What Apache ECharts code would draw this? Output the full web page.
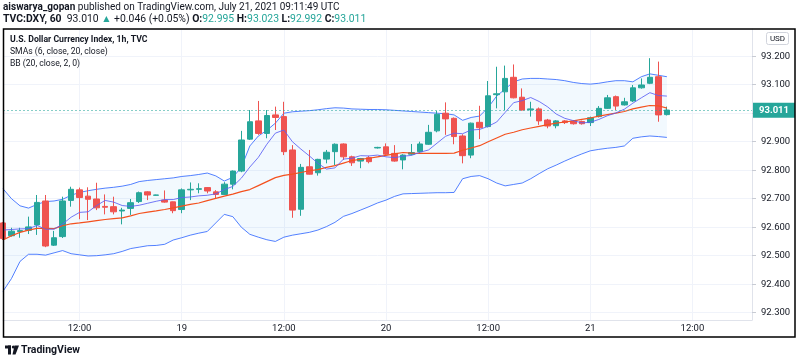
<!DOCTYPE html>
<html><head><meta charset="utf-8">
<script src="https://cdn.jsdelivr.net/npm/echarts@6/dist/echarts.min.js"></script>
<style>html,body{margin:0;padding:0;background:#fff;}#c{width:800px;height:362px;}</style>
</head><body><div id="c"></div>
<script>
// ---- data (hourly candles, TVC:DXY 1h) ----
const opens = [92.615,92.570,92.585,92.589,92.608,92.692,92.537,92.567,92.694,92.731,92.709,92.699,92.673,92.672,92.657,92.666,92.690,92.724,92.712,92.695,92.689,92.662,92.731,92.733,92.739,92.724,92.715,92.751,92.797,92.909,92.973,92.929,92.994,92.988,92.871,92.663,92.812,92.791,92.839,92.865,92.892,92.847,92.832,92.844,92.878,92.882,92.859,92.836,92.856,92.865,92.891,92.938,93.000,92.982,92.920,92.853,92.968,92.953,93.065,93.075,93.126,93.056,93.012,93.015,92.976,92.956,92.973,92.972,92.971,92.967,92.988,93.017,93.058,93.029,93.043,93.089,93.105,93.128,92.995];
const closes = [92.560,92.586,92.588,92.601,92.687,92.534,92.563,92.692,92.733,92.704,92.698,92.668,92.670,92.654,92.660,92.686,92.721,92.713,92.713,92.688,92.658,92.731,92.733,92.735,92.727,92.715,92.751,92.797,92.906,92.970,92.929,92.992,92.985,92.865,92.660,92.810,92.786,92.838,92.863,92.891,92.847,92.826,92.841,92.830,92.880,92.856,92.832,92.853,92.862,92.892,92.933,92.996,92.980,92.918,92.851,92.965,92.949,93.061,93.068,93.122,93.054,93.011,93.015,92.973,92.955,92.973,92.967,92.963,92.963,92.984,93.017,93.054,93.025,93.040,93.089,93.099,93.126,92.994,93.011];
const highs = [92.618,92.598,92.598,92.637,92.713,92.713,92.587,92.707,92.742,92.739,92.740,92.756,92.715,92.707,92.668,92.699,92.725,92.726,92.714,92.729,92.690,92.736,92.757,92.754,92.741,92.730,92.758,92.799,92.938,93.011,93.043,93.011,93.023,93.040,92.888,92.822,92.871,92.840,92.871,92.894,92.894,92.851,92.843,92.850,92.882,92.894,92.888,92.856,92.892,92.900,92.959,93.008,93.038,92.985,92.926,92.967,93.026,93.113,93.163,93.167,93.171,93.087,93.040,93.020,92.980,92.976,92.976,92.976,92.974,92.988,93.025,93.064,93.062,93.054,93.099,93.122,93.193,93.181,93.023];
const lows = [92.555,92.567,92.563,92.576,92.573,92.530,92.534,92.562,92.672,92.628,92.625,92.660,92.645,92.645,92.610,92.643,92.685,92.695,92.711,92.686,92.649,92.649,92.695,92.719,92.719,92.701,92.713,92.733,92.793,92.906,92.924,92.912,92.941,92.853,92.633,92.640,92.785,92.781,92.824,92.818,92.836,92.815,92.807,92.824,92.876,92.851,92.830,92.803,92.852,92.862,92.889,92.933,92.924,92.891,92.824,92.842,92.909,92.950,93.017,93.011,93.052,93.009,92.988,92.959,92.947,92.947,92.962,92.960,92.960,92.955,92.985,93.015,93.011,93.027,93.039,93.086,93.102,92.970,92.992];
const sma6 = [92.590,92.592,92.594,92.595,92.606,92.593,92.593,92.611,92.635,92.652,92.654,92.676,92.694,92.688,92.676,92.673,92.677,92.684,92.691,92.697,92.697,92.704,92.706,92.710,92.712,92.717,92.732,92.743,92.772,92.811,92.845,92.891,92.930,92.941,92.900,92.874,92.850,92.824,92.804,92.808,92.839,92.842,92.851,92.850,92.853,92.847,92.844,92.849,92.852,92.863,92.871,92.895,92.919,92.930,92.928,92.941,92.943,92.954,92.969,93.003,93.037,93.044,93.055,93.041,93.022,92.997,92.982,92.974,92.966,92.968,92.978,92.991,93.001,93.014,93.035,93.054,93.072,93.062,93.060];
const basis = [92.555,92.570,92.582,92.590,92.596,92.596,92.595,92.605,92.612,92.615,92.619,92.623,92.627,92.630,92.633,92.640,92.648,92.653,92.657,92.662,92.668,92.674,92.680,92.685,92.693,92.701,92.709,92.716,92.725,92.732,92.746,92.760,92.774,92.782,92.786,92.792,92.798,92.802,92.810,92.816,92.825,92.834,92.838,92.842,92.847,92.852,92.857,92.862,92.860,92.859,92.859,92.859,92.859,92.860,92.870,92.878,92.886,92.900,92.913,92.926,92.933,92.942,92.948,92.954,92.960,92.965,92.969,92.973,92.978,92.983,92.990,92.995,93.000,93.006,93.015,93.021,93.027,93.026,93.018];
const upper = [92.735,92.700,92.675,92.667,92.680,92.690,92.692,92.698,92.712,92.722,92.728,92.733,92.737,92.740,92.744,92.750,92.760,92.764,92.767,92.770,92.773,92.778,92.781,92.785,92.790,92.780,92.762,92.775,92.810,92.885,92.920,92.940,92.965,93.000,93.005,93.007,93.009,93.012,93.016,93.019,93.018,93.015,93.014,93.013,93.013,93.012,93.010,93.008,93.006,93.004,93.002,93.000,92.998,92.994,92.975,92.985,92.990,93.020,93.060,93.085,93.110,93.120,93.122,93.122,93.120,93.118,93.114,93.108,93.104,93.102,93.105,93.110,93.114,93.114,93.110,93.128,93.138,93.133,93.128];
const lower = [92.375,92.420,92.480,92.505,92.505,92.502,92.510,92.518,92.507,92.503,92.499,92.500,92.503,92.507,92.515,92.525,92.530,92.535,92.536,92.540,92.555,92.563,92.572,92.579,92.585,92.615,92.645,92.637,92.600,92.575,92.565,92.556,92.550,92.565,92.572,92.577,92.582,92.590,92.602,92.617,92.638,92.648,92.660,92.672,92.685,92.695,92.708,92.717,92.718,92.719,92.720,92.721,92.721,92.722,92.770,92.778,92.781,92.770,92.755,92.745,92.750,92.755,92.770,92.788,92.805,92.818,92.832,92.845,92.857,92.868,92.873,92.877,92.880,92.885,92.912,92.917,92.920,92.918,92.915];
const slotCount = 89;                       // hourly slots on the time axis
const labelSlots = [9, 21, 33, 45, 57, 69, 81];
const labelTexts = ['12:00', '19', '12:00', '20', '12:00', '21', '12:00'];
const yMin = 92.2744, yMax = 93.2954;

// ---- build ----
const FONT = 'Roboto, "Liberation Sans", Arial, sans-serif';
const TXT = '#131722', UP = '#26a69a', DOWN = '#ef5350';
const categories = Array.from({length: slotCount}, (_, i) => 'h' + i);
const labelFor = i => { const j = labelSlots.indexOf(i); return j < 0 ? '' : labelTexts[j]; };
const showAt = i => labelSlots.indexOf(i) >= 0;
const candles = opens.map((o, i) => [o, closes[i], lows[i], highs[i]]);
const lastClose = closes[closes.length - 1];

const chart = echarts.init(document.getElementById('c'), null, {renderer: 'canvas'});
chart.setOption({
  animation: false,
  backgroundColor: '#ffffff',
  textStyle: {fontFamily: FONT},
  grid: {left: 3, right: 48, top: 29, bottom: 42, containLabel: false},
  xAxis: {
    type: 'category', data: categories, boundaryGap: false,
    axisLine: {show: true, lineStyle: {color: '#e0e3eb'}},
    axisTick: {show: false},
    axisLabel: {interval: (i) => showAt(i), formatter: (v, i) => labelFor(i), color: TXT, fontSize: 9.5, margin: 4, fontFamily: FONT},
    splitLine: {show: true, interval: (i) => showAt(i), lineStyle: {color: '#f0f3fa', width: 1}}
  },
  yAxis: {
    type: 'value', position: 'right', min: yMin, max: yMax, splitNumber: 10,
    axisLine: {show: true, lineStyle: {color: '#e0e3eb'}},
    axisTick: {show: true, length: 4, lineStyle: {color: '#c8cbd3'}},
    axisLabel: {formatter: v => v.toFixed(3), showMinLabel: false, showMaxLabel: false, color: TXT, fontSize: 9.5, margin: 9, fontFamily: FONT},
    splitLine: {show: true, lineStyle: {color: '#f0f3fa', width: 1}}
  },
  series: [
    {
      name: 'BB fill', type: 'custom', silent: true, z: 1, clip: true,
      renderItem: (params, api) => {
        const pts = [];
        for (let i = 0; i < upper.length; i++) pts.push(api.coord([i, upper[i]]));
        for (let i = lower.length - 1; i >= 0; i--) pts.push(api.coord([i, lower[i]]));
        return {type: 'polygon', shape: {points: pts}, style: {fill: 'rgba(33,150,243,0.06)'}};
      },
      data: [[0, upper[0]]]
    },
    {name: 'Upper', type: 'line', data: upper, symbol: 'none', z: 3, silent: true,
     lineStyle: {color: '#2962ff', width: 1, opacity: 0.8}},
    {name: 'Lower', type: 'line', data: lower, symbol: 'none', z: 3, silent: true,
     lineStyle: {color: '#2962ff', width: 1, opacity: 0.8}},
    {
      name: 'DXY', type: 'candlestick', data: candles, barWidth: 6, z: 4, clip: true,
      itemStyle: {color: UP, color0: DOWN, borderColor: UP, borderColor0: DOWN, borderWidth: 1},
      markLine: {
        silent: true, symbol: ['none', 'none'], animation: false, z: 20,
        data: [{yAxis: lastClose}],
        lineStyle: {color: 'rgba(38,166,154,0.55)', type: [2, 2], width: 1, opacity: 1},
        label: {show: true, position: 'end', formatter: () => lastClose.toFixed(3), backgroundColor: UP,
                color: '#ffffff', fontSize: 9.5, fontWeight: 'bold', padding: [3, 6, 2, 6], distance: 1, fontFamily: FONT, opacity: 1}
      }
    },
    {name: 'Basis', type: 'line', data: basis, symbol: 'none', z: 5, silent: true,
     lineStyle: {color: '#f4511e', width: 1.2}},
    {name: 'SMA6', type: 'line', data: sma6, symbol: 'none', z: 5, silent: true,
     lineStyle: {color: '#5b5ff5', width: 1, opacity: 0.85}}
  ],
  graphic: [
    {type: 'rect', z: 100, silent: true, shape: {x: 3.5, y: 29, width: 791.5, height: 308},
     style: {fill: 'none', stroke: '#000000', lineWidth: 1.5}},
    {type: 'text', x: 3, y: 7, z: 100, silent: true,
     style: {text: '{b|aiswarya_gopan} published on TradingView.com, July 21, 2021 09:11:49 UTC',
             fill: TXT, font: '10px ' + FONT, verticalAlign: 'middle',
             rich: {b: {fontWeight: 'bold', fill: TXT, fontSize: 10, fontFamily: FONT}}}},
    {type: 'text', x: 3, y: 19, z: 100, silent: true,
     style: {text: '{b|TVC:DXY, 60}  93.010 {g|▲} +0.046 (+0.05%) {b|O:}{g|92.995} {b|H:}{g|93.023} {b|L:}{g|92.992} {b|C:}{g|93.011}',
             fill: TXT, font: '10.4px ' + FONT, verticalAlign: 'middle',
             rich: {b: {fontWeight: 'bold', fill: TXT, fontSize: 10.4, fontFamily: FONT},
                    g: {fill: UP, fontSize: 10.4, fontFamily: FONT}}}},
    {type: 'text', x: 10, y: 40, z: 100, silent: true,
     style: {text: 'U.S. Dollar Currency Index, 1h, TVC', fill: TXT, font: 'bold 8.7px ' + FONT, verticalAlign: 'middle'}},
    {type: 'text', x: 10, y: 52, z: 100, silent: true,
     style: {text: 'SMAs (6, close, 20, close)', fill: TXT, font: '8.6px ' + FONT, verticalAlign: 'middle'}},
    {type: 'text', x: 10, y: 64, z: 100, silent: true,
     style: {text: 'BB (20, close, 2, 0)', fill: TXT, font: '8.6px ' + FONT, verticalAlign: 'middle'}},
    {type: 'rect', z: 100, silent: true, shape: {x: 766.5, y: 32.5, width: 22, height: 12, r: 2},
     style: {fill: '#ffffff', stroke: '#d1d4dc', lineWidth: 1}},
    {type: 'text', x: 777.5, y: 38.5, z: 101, silent: true,
     style: {text: 'USD', fill: TXT, font: '8px ' + FONT, align: 'center', verticalAlign: 'middle'}},
    {type: 'rect', z: 100, silent: true, shape: {x: 5, y: 345.5, width: 6, height: 3}, style: {fill: TXT}},
    {type: 'rect', z: 100, silent: true, shape: {x: 8, y: 345.5, width: 3, height: 9}, style: {fill: TXT}},
    {type: 'circle', z: 100, silent: true, shape: {cx: 13.3, cy: 347, r: 1.5}, style: {fill: TXT}},
    {type: 'polygon', z: 100, silent: true, shape: {points: [[14.5, 345.5], [19, 345.5], [15.5, 354.5], [12.5, 354.5]]}, style: {fill: TXT}},
    {type: 'text', x: 21, y: 350.5, z: 100, silent: true,
     style: {text: 'TradingView', fill: TXT, font: 'bold 10.5px ' + FONT, verticalAlign: 'middle'}}
  ]
});
</script>
</body></html>
